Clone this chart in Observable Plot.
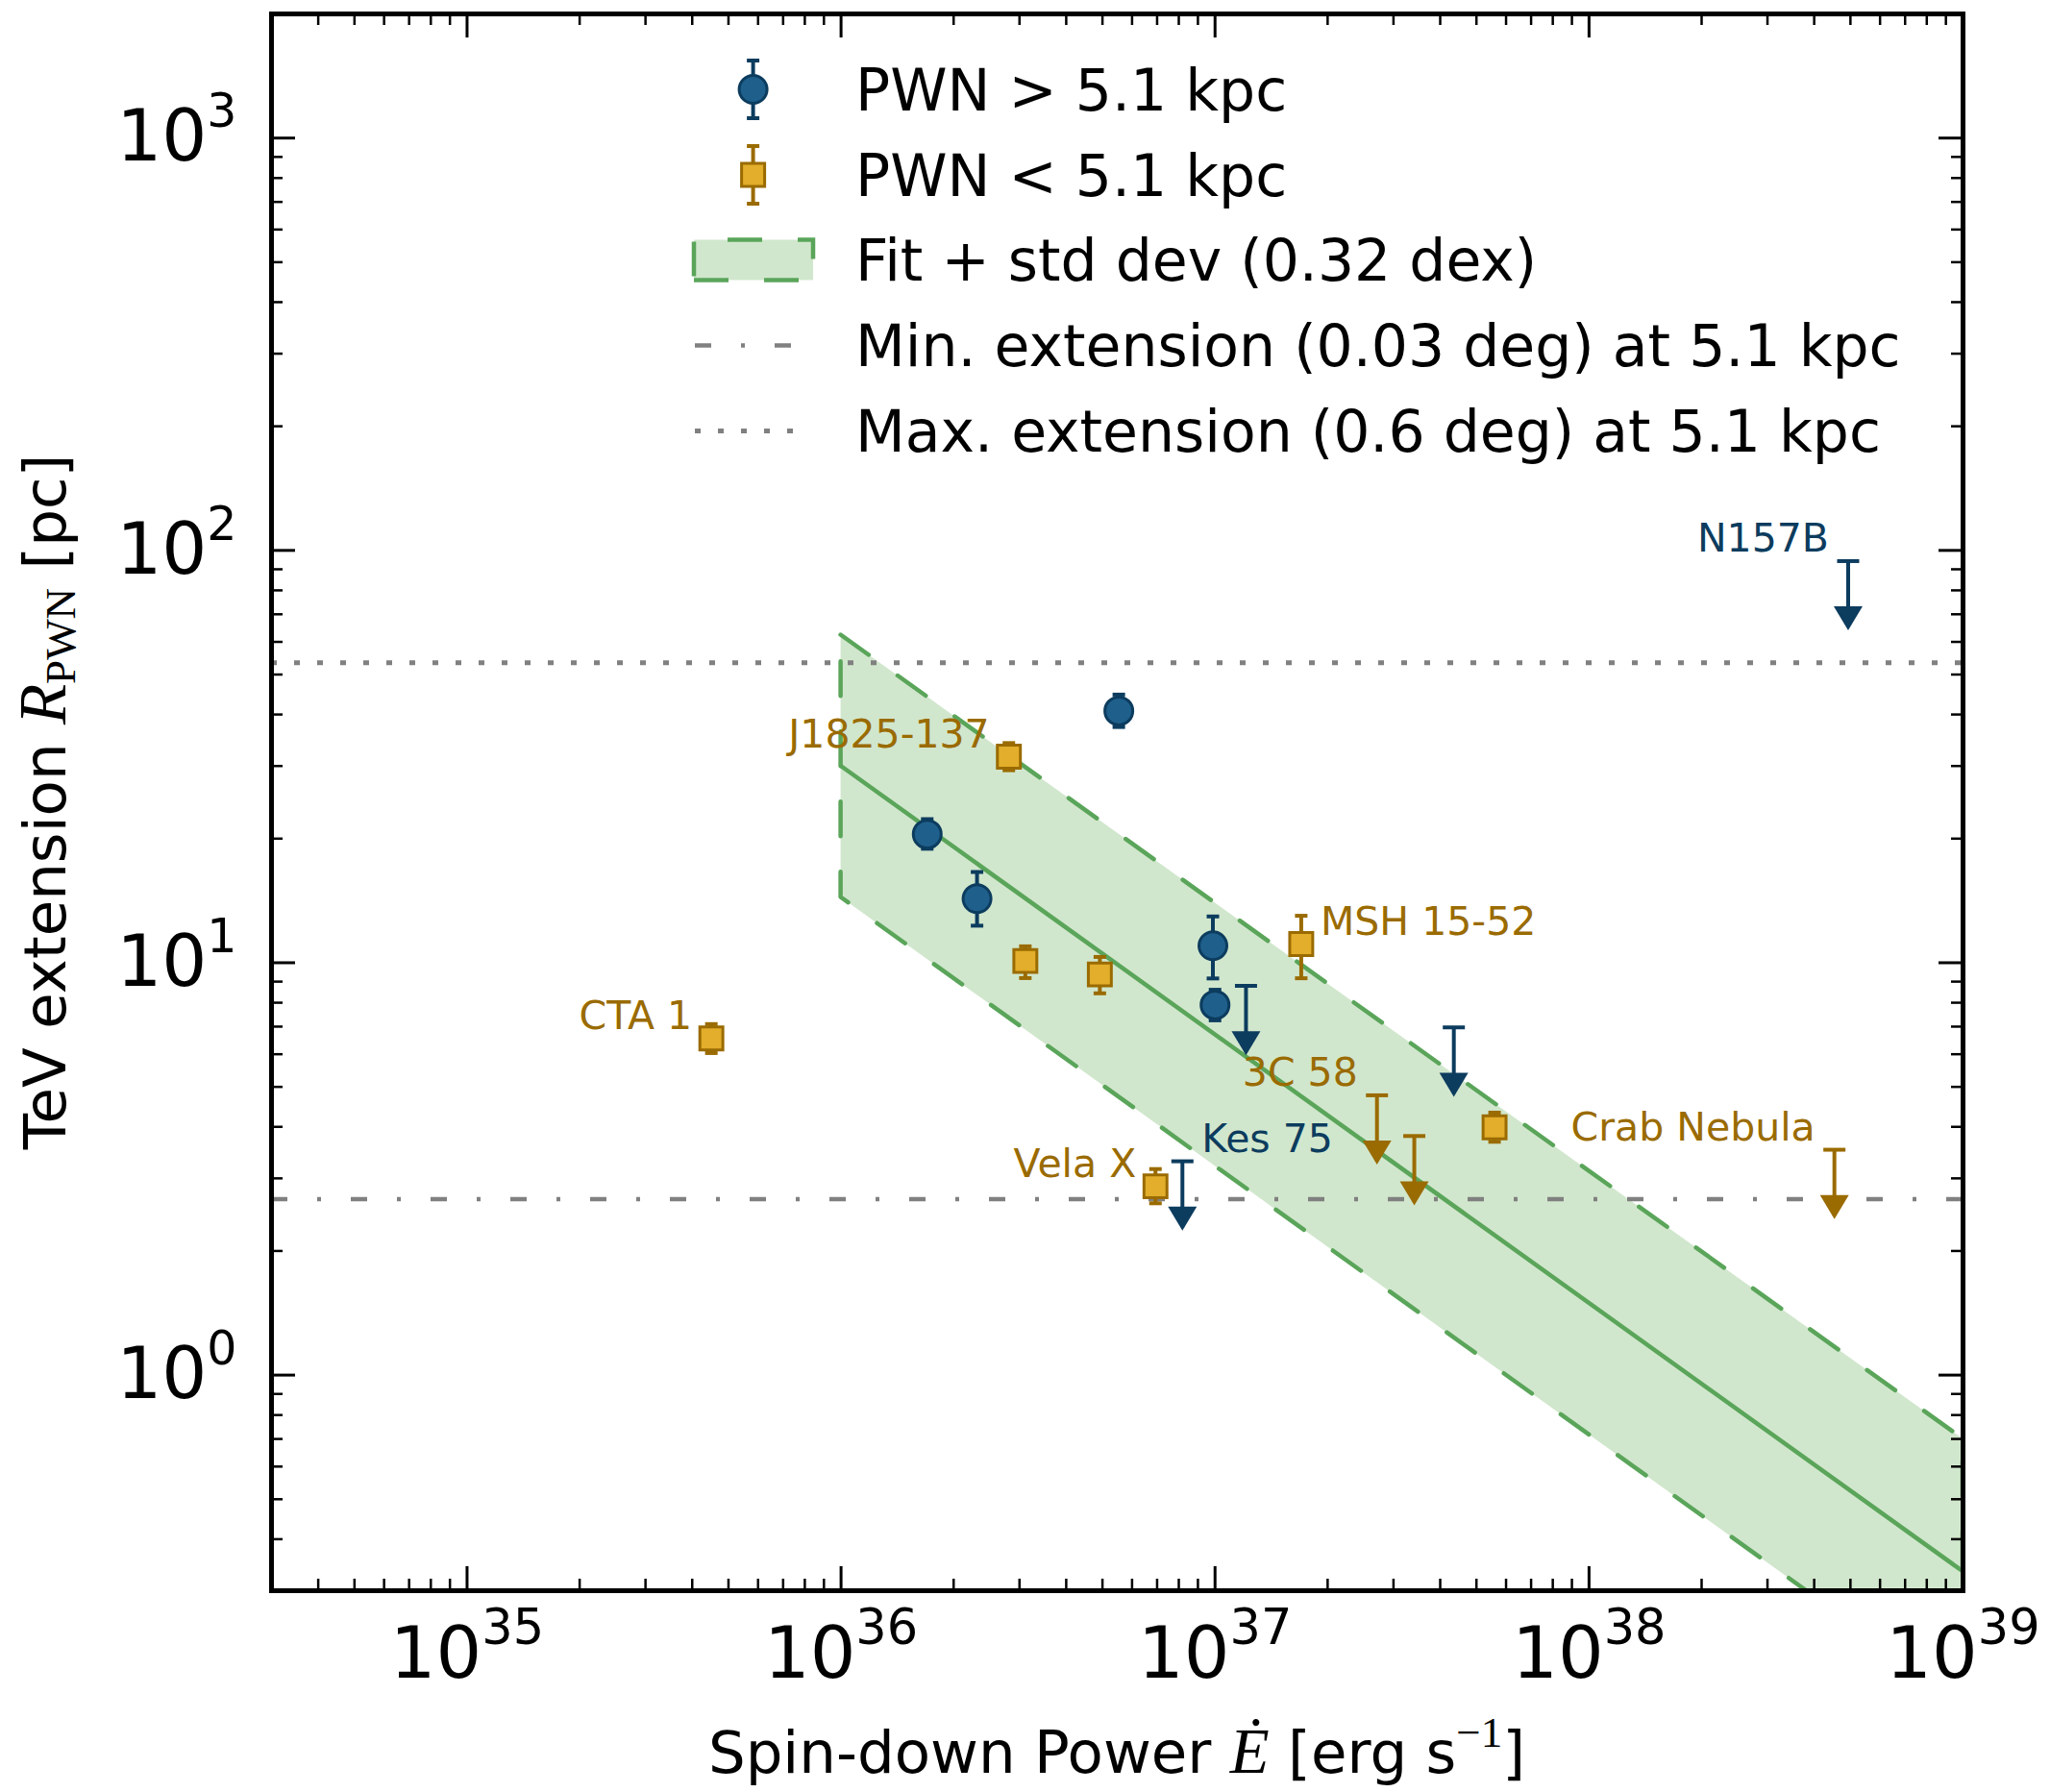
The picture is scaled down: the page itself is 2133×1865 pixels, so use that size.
<!DOCTYPE html>
<html><head><meta charset="utf-8">
<script src="https://cdn.jsdelivr.net/npm/d3@7"></script>
<script src="https://cdn.jsdelivr.net/npm/@observablehq/plot@0.6"></script>
<style>
html,body{margin:0;padding:0;background:#fff;}
#chart{width:2133px;height:1865px;}
</style></head><body><div id="chart"></div>
<script>
// ---------------- data ----------------
// PWN farther than 5.1 kpc: detections
const farNames = ["", "", "", "", ""];
const farEdot  = [1.70e36, 2.31e36, 5.53e36, 9.87e36, 1.00e37];
const farR     = [20.5, 14.3, 40.8, 11.0, 7.9];
const farRLo   = [18.9, 12.3, 37.3, 9.16, 7.25];
const farRHi   = [22.3, 16.6, 44.7, 12.95, 8.6];
// PWN farther than 5.1 kpc: upper limits
const farULNames = ["Kes 75", "", "", "N157B"];
const farULEdot  = [8.18e36, 1.21e37, 4.35e37, 4.93e38];
const farULR     = [3.30, 8.79, 6.97, 94.2];
// PWN closer than 5.1 kpc: detections
const nearNames = ["CTA 1", "J1825-137", "", "", "Vela X", "MSH 15-52", ""];
const nearEdot  = [4.50e35, 2.81e36, 3.11e36, 4.92e36, 6.93e36, 1.70e37, 5.59e37];
const nearR     = [6.55, 31.6, 10.1, 9.37, 2.87, 11.1, 3.99];
const nearRLo   = [6.04, 29.3, 9.18, 8.43, 2.61, 9.17, 3.68];
const nearRHi   = [7.10, 34.1, 10.96, 10.33, 3.16, 13.0, 4.33];
// PWN closer than 5.1 kpc: upper limits
const nearULNames = ["3C 58", "", "Crab Nebula"];
const nearULEdot  = [2.71e37, 3.41e37, 4.53e38];
const nearULR     = [4.77, 3.80, 3.52];
// Fit (power law) and +/- 0.32 dex band, read at the band ends
const fitEdot = [1e36, 1e39];
const fitR    = [30.0, 0.334];
const fitRHi  = [62.3, 0.70];
const fitRLo  = [14.4, 0.16];
// Extension limits at 5.1 kpc (pc)
const minExtension = 2.67;   // 0.03 deg
const maxExtension = 53.4;   // 0.6 deg
// Legend texts
const legendLabels = [
  "PWN > 5.1 kpc",
  "PWN < 5.1 kpc",
  "Fit + std dev (0.32 dex)",
  "Min. extension (0.03 deg) at 5.1 kpc",
  "Max. extension (0.6 deg) at 5.1 kpc"
];
const ulArrowFactor = 0.69; // length of upper-limit arrows (fraction of value)

// ---------------- styles ----------------
const farFill = "#1f5f8b", farDark = "#0c3c5e";
const nearFill = "#e2ae2b", nearDark = "#9a6b00";
const green = "#5aa55a", bandFill = "#d1e7cd", gray = "#808080";
const W = 2133, H = 1865, mL = 282, mR = 91, mT = 14, mB = 210;
const plotW = W - mL - mR, plotH = H - mT - mB;
const xDomain = [3e34, 1e39], yDomain = [0.3, 2000];

// ---------------- tables ----------------
const farRows = farEdot.map((E, i) => ({E, R: farR[i], lo: farRLo[i], hi: farRHi[i], name: farNames[i]}));
const nearRows = nearEdot.map((E, i) => ({E, R: nearR[i], lo: nearRLo[i], hi: nearRHi[i], name: nearNames[i]}));
const farULRows = farULEdot.map((E, i) => ({E, R: farULR[i], tip: farULR[i] * ulArrowFactor, name: farULNames[i]}));
const nearULRows = nearULEdot.map((E, i) => ({E, R: nearULR[i], tip: nearULR[i] * ulArrowFactor, name: nearULNames[i]}));
const fitRows = fitEdot.map((E, i) => ({E, R: fitR[i], lo: fitRLo[i], hi: fitRHi[i]}));

const endAnchored = ["J1825-137", "CTA 1", "Vela X", "3C 58", "Crab Nebula", "N157B"];
const labelsNearEnd = [...nearRows, ...nearULRows].filter(d => d.name && endAnchored.includes(d.name));
const labelsNearStart = [...nearRows, ...nearULRows].filter(d => d.name && !endAnchored.includes(d.name));
const labelsFarEnd = [...farRows, ...farULRows].filter(d => d.name && endAnchored.includes(d.name));
const labelsFarStart = [...farRows, ...farULRows].filter(d => d.name && !endAnchored.includes(d.name));

// log ticks
function logTicks(domain) {
  const majors = [], minors = [];
  const lo = Math.floor(Math.log10(domain[0])), hi = Math.ceil(Math.log10(domain[1]));
  for (let e = lo; e <= hi; e++) for (let m = 1; m < 10; m++) {
    const v = m * Math.pow(10, e);
    if (v < domain[0] * 0.9999 || v > domain[1] * 1.0001) continue;
    (m === 1 ? majors : minors).push(v);
  }
  return {majors, minors};
}
const xt = logTicks(xDomain), yt = logTicks(yDomain);
const tMaj = 25, tMin = 12;

// symbols
const capSmall = {draw(ctx) { ctx.moveTo(-6.5, 0); ctx.lineTo(6.5, 0); }};
const capUL = {draw(ctx) { ctx.moveTo(-11.5, 0); ctx.lineTo(11.5, 0); }};
const arrowHead = {draw(ctx) { ctx.moveTo(-15, -22); ctx.lineTo(15, -22); ctx.lineTo(0, 3); ctx.closePath(); }};

const expFmt = d => `10^${Math.round(Math.log10(d))}`;
const font = "DejaVu Sans";

const svg = Plot.plot({
  width: W, height: H,
  marginLeft: mL, marginRight: mR, marginTop: mT, marginBottom: mB,
  style: {fontFamily: font, background: "white", overflow: "visible"},
  x: {type: "log", domain: xDomain},
  y: {type: "log", domain: yDomain},
  marks: [
    // fit band and line
    Plot.areaY(fitRows, {x: "E", y1: "lo", y2: "hi", fill: bandFill, stroke: green, strokeWidth: 4.5, strokeDasharray: "36,37", clip: true}),
    Plot.line(fitRows, {x: "E", y: "R", stroke: green, strokeWidth: 4.5, clip: true}),
    // extension limits
    Plot.ruleY([maxExtension], {stroke: gray, strokeWidth: 5, strokeDasharray: "6,18"}),
    Plot.ruleY([minExtension], {stroke: gray, strokeWidth: 4.5, strokeDasharray: "17,31,4,31"}),
    // far detections
    Plot.ruleX(farRows, {x: "E", y1: "lo", y2: "hi", stroke: farDark, strokeWidth: 4}),
    Plot.dot(farRows, {x: "E", y: "R", r: 14.5, fill: farFill, stroke: farDark, strokeWidth: 3}),
    Plot.dot(farRows, {x: "E", y: "lo", symbol: capSmall, fill: "none", stroke: farDark, strokeWidth: 4}),
    Plot.dot(farRows, {x: "E", y: "hi", symbol: capSmall, fill: "none", stroke: farDark, strokeWidth: 4}),
    // near detections
    Plot.ruleX(nearRows, {x: "E", y1: "lo", y2: "hi", stroke: nearDark, strokeWidth: 4}),
    Plot.dot(nearRows, {x: "E", y: "R", symbol: "square", r: 13.5, fill: nearFill, stroke: nearDark, strokeWidth: 3}),
    Plot.dot(nearRows, {x: "E", y: "lo", symbol: capSmall, fill: "none", stroke: nearDark, strokeWidth: 4}),
    Plot.dot(nearRows, {x: "E", y: "hi", symbol: capSmall, fill: "none", stroke: nearDark, strokeWidth: 4}),
    // upper limits
    Plot.ruleX(farULRows, {x: "E", y1: "R", y2: "tip", stroke: farDark, strokeWidth: 4}),
    Plot.dot(farULRows, {x: "E", y: "R", symbol: capUL, fill: "none", stroke: farDark, strokeWidth: 4}),
    Plot.dot(farULRows, {x: "E", y: "tip", symbol: arrowHead, fill: farDark, stroke: "none"}),
    Plot.ruleX(nearULRows, {x: "E", y1: "R", y2: "tip", stroke: nearDark, strokeWidth: 4}),
    Plot.dot(nearULRows, {x: "E", y: "R", symbol: capUL, fill: "none", stroke: nearDark, strokeWidth: 4}),
    Plot.dot(nearULRows, {x: "E", y: "tip", symbol: arrowHead, fill: nearDark, stroke: "none"}),
    // labels
    Plot.text(labelsNearEnd, {x: "E", y: "R", text: "name", fill: nearDark, fontSize: 41, textAnchor: "end", dx: -20, dy: -23}),
    Plot.text(labelsNearStart, {x: "E", y: "R", text: "name", fill: nearDark, fontSize: 41, textAnchor: "start", dx: 20, dy: -23}),
    Plot.text(labelsFarEnd, {x: "E", y: "R", text: "name", fill: farDark, fontSize: 41, textAnchor: "end", dx: -20, dy: -23}),
    Plot.text(labelsFarStart, {x: "E", y: "R", text: "name", fill: farDark, fontSize: 41, textAnchor: "start", dx: 20, dy: -23}),
    // ticks (inward, all four sides)
    Plot.ruleX(xt.majors, {x: d => d, insetTop: plotH - tMaj, stroke: "black", strokeWidth: 3}),
    Plot.ruleX(xt.majors, {x: d => d, insetBottom: plotH - tMaj, stroke: "black", strokeWidth: 3}),
    Plot.ruleX(xt.minors, {x: d => d, insetTop: plotH - tMin, stroke: "black", strokeWidth: 2.5}),
    Plot.ruleX(xt.minors, {x: d => d, insetBottom: plotH - tMin, stroke: "black", strokeWidth: 2.5}),
    Plot.ruleY(yt.majors, {y: d => d, insetRight: plotW - tMaj, stroke: "black", strokeWidth: 3}),
    Plot.ruleY(yt.majors, {y: d => d, insetLeft: plotW - tMaj, stroke: "black", strokeWidth: 3}),
    Plot.ruleY(yt.minors, {y: d => d, insetRight: plotW - tMin, stroke: "black", strokeWidth: 2.5}),
    Plot.ruleY(yt.minors, {y: d => d, insetLeft: plotW - tMin, stroke: "black", strokeWidth: 2.5}),
    Plot.axisX(xt.majors, {anchor: "bottom", tickSize: 0, tickPadding: 37, fontSize: 75, tickFormat: expFmt, label: null, fill: "black"}),
    Plot.axisY(yt.majors, {anchor: "left", tickSize: 0, tickPadding: 36, fontSize: 74, tickFormat: expFmt, label: null, fill: "black"}),
    Plot.frame({stroke: "black", strokeWidth: 5})
  ]
});

const S = d3.select(svg);
// superscript exponents on tick labels
S.selectAll('g[aria-label$="tick label"] text').each(function () {
  const m = (this.textContent || "").match(/^10\^(-?\d+)$/);
  if (!m) return;
  const isX = this.parentNode.getAttribute("aria-label").startsWith("x");
  this.textContent = "";
  const t = d3.select(this);
  t.append("tspan").text("10");
  t.append("tspan").attr("font-size", isX ? 51 : 49).attr("dy", -35).text(m[1]);
});

// axis labels
const xl = S.append("text").attr("x", mL + plotW / 2).attr("y", 1845).attr("text-anchor", "middle")
  .attr("font-family", font).attr("font-size", 61).attr("fill", "black");
xl.append("tspan").text("Spin-down Power ");
xl.append("tspan").attr("font-family", "Liberation Serif").attr("font-style", "italic").attr("font-size", 67).text("Ė");
xl.append("tspan").text(" [erg s");
xl.append("tspan").attr("font-family", "Liberation Serif").attr("font-size", 45).attr("dy", -27).text("−1");
xl.append("tspan").attr("dy", 27).text("]");

const yl = S.append("text").attr("transform", `translate(68,${mT + plotH / 2}) rotate(-90)`).attr("text-anchor", "middle")
  .attr("font-family", font).attr("font-size", 61).attr("fill", "black");
yl.append("tspan").text("TeV extension ");
yl.append("tspan").attr("font-family", "Liberation Serif").attr("font-style", "italic").attr("font-size", 69).text("R");
yl.append("tspan").attr("font-family", "Liberation Serif").attr("font-size", 45).attr("dy", 10).text("PWN");
yl.append("tspan").attr("dy", -10).text(" [pc]");

// legend (inside axes, no frame)
const lg = S.append("g").attr("font-family", font).attr("font-size", 60).attr("text-anchor", "start");
const lx = 783.6, rowY = [93, 182, 270.5, 359.5, 448.5], textX = 890;
// 1: far detection
lg.append("line").attr("x1", lx).attr("x2", lx).attr("y1", rowY[0] - 30).attr("y2", rowY[0] + 30).attr("stroke", farDark).attr("stroke-width", 4);
lg.append("circle").attr("cx", lx).attr("cy", rowY[0]).attr("r", 14.5).attr("fill", farFill).attr("stroke", farDark).attr("stroke-width", 3);
[-30, 30].forEach(o => lg.append("line").attr("x1", lx - 6.5).attr("x2", lx + 6.5).attr("y1", rowY[0] + o).attr("y2", rowY[0] + o).attr("stroke", farDark).attr("stroke-width", 4));
// 2: near detection
lg.append("line").attr("x1", lx).attr("x2", lx).attr("y1", rowY[1] - 30).attr("y2", rowY[1] + 30).attr("stroke", nearDark).attr("stroke-width", 4);
lg.append("rect").attr("x", lx - 12).attr("y", rowY[1] - 12).attr("width", 24).attr("height", 24).attr("fill", nearFill).attr("stroke", nearDark).attr("stroke-width", 3);
[-30, 30].forEach(o => lg.append("line").attr("x1", lx - 6.5).attr("x2", lx + 6.5).attr("y1", rowY[1] + o).attr("y2", rowY[1] + o).attr("stroke", nearDark).attr("stroke-width", 4));
// 3: band patch
lg.append("path").attr("d", `M722,${rowY[2] + 21} H846 V${rowY[2] - 21} H722 Z`).attr("fill", bandFill).attr("stroke", green).attr("stroke-width", 4.5).attr("stroke-dasharray", "36,37");
// 4, 5: reference lines
lg.append("line").attr("x1", 723).attr("x2", 829).attr("y1", rowY[3]).attr("y2", rowY[3]).attr("stroke", gray).attr("stroke-width", 4.5).attr("stroke-dasharray", "17,31,4,31");
lg.append("line").attr("x1", 723).attr("x2", 829).attr("y1", rowY[4]).attr("y2", rowY[4]).attr("stroke", gray).attr("stroke-width", 5).attr("stroke-dasharray", "6,18");
legendLabels.forEach((t, i) => lg.append("text").attr("x", textX).attr("y", rowY[i] + 21.5).attr("fill", "black").text(t));

document.getElementById("chart").appendChild(svg);
</script></body></html>
